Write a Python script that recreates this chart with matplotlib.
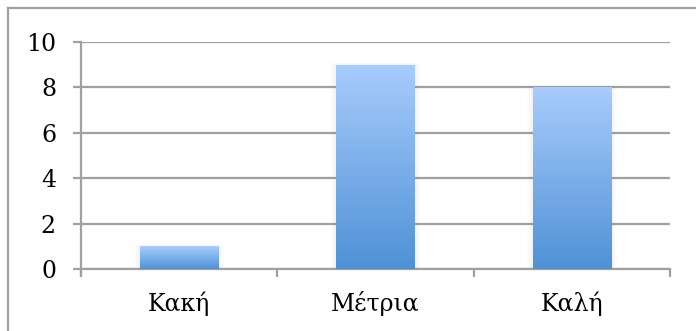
import numpy as np
import matplotlib
matplotlib.use("Agg")
import matplotlib.pyplot as plt
from matplotlib.lines import Line2D

categories = ["Κακή", "Μέτρια", "Καλή"]
values = [1, 9, 8]
yticks = [0, 2, 4, 6, 8, 10]

grid_color = "#a0a0a0"
top_color = np.array([0.66, 0.80, 0.99])
bottom_color = np.array([0.31, 0.57, 0.84])

plt.rcParams["font.family"] = ["DejaVu Serif"]

fig = plt.figure(figsize=(6.96, 3.31), dpi=100)
ax = fig.add_axes([0.1164, 0.1873, 0.9626 - 0.1164, 0.8731 - 0.1873])

x = np.arange(len(categories))
bars = ax.bar(x, values, width=0.4, color="none", zorder=3)

# vertical gradient inside each bar
grad = np.linspace(0, 1, 256).reshape(-1, 1)
img = top_color * (1 - grad[..., None]) + bottom_color * grad[..., None]
img = np.repeat(img, 2, axis=1)
for b in bars:
    x0, w, h = b.get_x(), b.get_width(), b.get_height()
    # soft shadow
    for k, a in enumerate([0.04, 0.03, 0.02]):
        pad = 0.01 * (k + 1)
        ax.add_patch(plt.Rectangle((x0 - pad, 0), w + 2 * pad, h + pad * 3,
                                   color="#808080", alpha=a, lw=0, zorder=2))
    im = ax.imshow(img, extent=[x0, x0 + w, 0, h], aspect="auto",
                   origin="upper", zorder=3)
    im.set_clip_path(b)

ax.set_xlim(-0.5, len(categories) - 0.5)
ax.set_ylim(0, 10)
ax.set_yticks(yticks)
ax.set_xticks(x)
ax.set_xticklabels(categories)
ax.set_xticks(np.arange(len(categories) + 1) - 0.5, minor=True)

ax.yaxis.grid(True, color=grid_color, lw=1.6, zorder=1)
ax.set_axisbelow(True)
for s in ["top", "right"]:
    ax.spines[s].set_visible(False)
ax.spines["left"].set_color(grid_color)
ax.spines["left"].set_linewidth(1.6)
ax.spines["bottom"].set_color(grid_color)
ax.spines["bottom"].set_linewidth(1.6)

ax.tick_params(axis="y", length=6, width=1.6, color=grid_color, pad=12,
               labelsize=17)
ax.tick_params(axis="x", which="major", length=0, pad=16, labelsize=17)
ax.tick_params(axis="x", which="minor", length=6, width=1.6, color=grid_color)

# left axis continues a little below zero
ax.plot([-0.5, -0.5], [0, -0.3], color=grid_color, lw=1.6, clip_on=False)

# outer frame (only top and left visible)
fig.add_artist(Line2D([0.0122, 1.0], [0.9758, 0.9758], color=grid_color, lw=1.6))
fig.add_artist(Line2D([0.0122, 0.0122], [0.0, 0.9758], color=grid_color, lw=1.6))

fig.savefig("out.png", dpi=100)
